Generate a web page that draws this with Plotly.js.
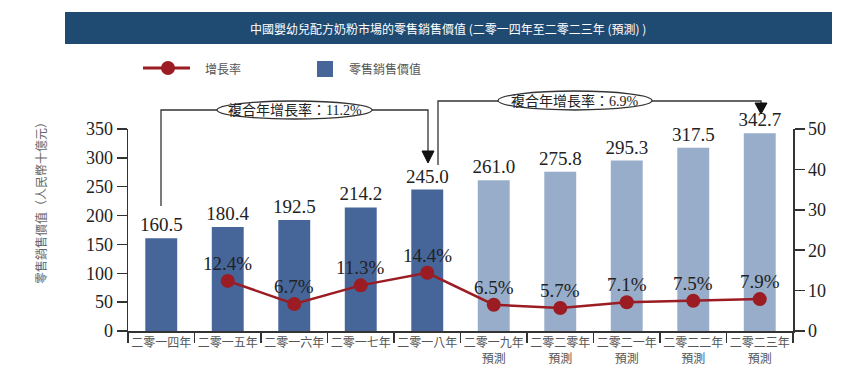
<!DOCTYPE html>
<html>
<head>
<meta charset="utf-8">
<script src="https://cdn.plot.ly/plotly-3.0.1.min.js"></script>
<style>html,body{margin:0;padding:0;background:#fff;}#chart{width:864px;height:383px;}</style>
</head>
<body>
<div id="chart"></div>
<script>
// ---- data ----
const years = ["二零一四年","二零一五年","二零一六年","二零一七年","二零一八年","二零一九年<br>預測","二零二零年<br>預測","二零二一年<br>預測","二零二二年<br>預測","二零二三年<br>預測"];
const retailValue = [160.5, 180.4, 192.5, 214.2, 245.0, 261.0, 275.8, 295.3, 317.5, 342.7];
const retailLabels = ["160.5","180.4","192.5","214.2","245.0","261.0","275.8","295.3","317.5","342.7"];
const isForecast = [false,false,false,false,false,true,true,true,true,true];
const growthYears = years.slice(1);
const growthRate = [12.4, 6.7, 11.3, 14.4, 6.5, 5.7, 7.1, 7.5, 7.9];
const growthLabels = growthRate.map(v => v.toFixed(1) + "%");
const title = "中國嬰幼兒配方奶粉市場的零售銷售價值 (二零一四年至二零二三年 (預測) )";
const yTitle = "零售銷售價值（人民幣十億元）";
const legendLine = "增長率";
const legendBar = "零售銷售價值";
const cagr1 = "複合年增長率：11.2%";
const cagr2 = "複合年增長率：6.9%";

// ---- style ----
const DARK = "#466599", LIGHT = "#98adc9", RED = "#9b1c22", AX = "#333";
const SERIF = "Liberation Serif, Times New Roman, serif";
const CJK = "Noto Sans CJK TC, Noto Sans, sans-serif";
const L = 128, R = 793, T = 129, B = 331;
const px = x => (x - L) / (R - L);
const py = y => (B - y) / (B - T);

const bars = {
  type: "bar", x: years, y: retailValue, text: retailLabels,
  textposition: "outside", cliponaxis: false, constraintext: "none",
  textfont: {family: SERIF, size: 19, color: "#222"},
  marker: {color: isForecast.map(f => f ? LIGHT : DARK)},
  width: 0.48, hoverinfo: "skip", showlegend: false
};
const line = {
  type: "scatter", mode: "lines+markers", x: growthYears, y: growthRate,
  yaxis: "y2", cliponaxis: false,
  line: {color: RED, width: 2.5}, marker: {color: RED, size: 14},
  hoverinfo: "skip", showlegend: false
};

const shapes = [
  {type: "rect", xref: "paper", yref: "paper", x0: px(65), x1: px(832), y0: py(44), y1: py(12), fillcolor: "#1f4a72", line: {width: 0}},
  // legend
  {type: "line", xref: "paper", yref: "paper", x0: px(143), x1: px(190), y0: py(68), y1: py(68), line: {color: RED, width: 3}},
  {type: "circle", xref: "paper", yref: "paper", x0: px(161), x1: px(175), y0: py(75), y1: py(61), fillcolor: RED, line: {width: 0}},
  {type: "rect", xref: "paper", yref: "paper", x0: px(317), x1: px(333), y0: py(77), y1: py(61), fillcolor: DARK, line: {width: 0}},
  // bracket 1
  {type: "path", xref: "paper", yref: "paper", path: `M ${px(161)} ${py(206)} L ${px(161)} ${py(110)} L ${px(217)} ${py(110)} M ${px(372)} ${py(110)} L ${px(428)} ${py(110)} L ${px(428)} ${py(151)}`, line: {color: AX, width: 1.3}},
  {type: "path", xref: "paper", yref: "paper", path: `M ${px(422)} ${py(151)} L ${px(434)} ${py(151)} L ${px(428)} ${py(163)} Z`, fillcolor: "#111", line: {color: "#111", width: 1}},
  {type: "circle", xref: "paper", yref: "paper", x0: px(217), x1: px(372), y0: py(119), y1: py(101), fillcolor: "#fff", line: {color: AX, width: 1.3}},
  // bracket 2
  {type: "path", xref: "paper", yref: "paper", path: `M ${px(438)} ${py(165)} L ${px(438)} ${py(101)} L ${px(498)} ${py(101)} M ${px(652)} ${py(101)} L ${px(761)} ${py(101)} L ${px(761)} ${py(103)}`, line: {color: AX, width: 1.3}},
  {type: "path", xref: "paper", yref: "paper", path: `M ${px(755)} ${py(103)} L ${px(767)} ${py(103)} L ${px(761)} ${py(114)} Z`, fillcolor: "#111", line: {color: "#111", width: 1}},
  {type: "circle", xref: "paper", yref: "paper", x0: px(498), x1: px(652), y0: py(110), y1: py(91), fillcolor: "#fff", line: {color: AX, width: 1.3}}
];

const annotations = [
  {xref: "paper", yref: "paper", x: px(448), y: py(28), text: title, showarrow: false, font: {family: CJK, size: 12, color: "#fff"}, xanchor: "center", yanchor: "middle"},
  {xref: "paper", yref: "paper", x: px(203), y: py(68), text: legendLine, showarrow: false, font: {family: CJK, size: 12, color: "#555"}, xanchor: "left", yanchor: "middle"},
  {xref: "paper", yref: "paper", x: px(347), y: py(68), text: legendBar, showarrow: false, font: {family: CJK, size: 12, color: "#555"}, xanchor: "left", yanchor: "middle"},
  {xref: "paper", yref: "paper", x: px(40), y: py(200), text: yTitle, textangle: -90, showarrow: false, font: {family: CJK, size: 12, color: "#666"}, xanchor: "center", yanchor: "middle"},
  {xref: "paper", yref: "paper", x: px(294.5), y: py(110), text: cagr1, showarrow: false, font: {family: SERIF + ", " + CJK, size: 14, color: "#222"}, xanchor: "center", yanchor: "middle"},
  {xref: "paper", yref: "paper", x: px(575), y: py(100.5), text: cagr2, showarrow: false, font: {family: SERIF + ", " + CJK, size: 14, color: "#222"}, xanchor: "center", yanchor: "middle"}
];
growthYears.forEach((c, i) => annotations.push({
  xref: "x", yref: "y2", x: c, y: growthRate[i], text: growthLabels[i], showarrow: false,
  xanchor: "center", yanchor: "bottom", yshift: 5, font: {family: SERIF, size: 19, color: "#222"}
}));

const axisCommon = {showline: true, linecolor: AX, linewidth: 1.5, ticks: "outside", ticklen: 10, tickcolor: AX, tickwidth: 1.5, showgrid: false, zeroline: false, fixedrange: true, automargin: false};

const layout = {
  width: 864, height: 383,
  margin: {l: L, r: 864 - R, t: T, b: 383 - B, pad: 0},
  paper_bgcolor: "#fff", plot_bgcolor: "#fff",
  showlegend: false,
  xaxis: Object.assign({}, axisCommon, {type: "category", range: [-0.5, years.length - 0.5], autorange: false, tickson: "boundaries", tickangle: 0, tickfont: {family: CJK, size: 12, color: "#555"}}),
  yaxis: Object.assign({}, axisCommon, {range: [0, 350], dtick: 50, tickfont: {family: SERIF, size: 18, color: "#222"}}),
  yaxis2: Object.assign({}, axisCommon, {overlaying: "y", side: "right", range: [0, 50], dtick: 10, tickfont: {family: SERIF, size: 18, color: "#222"}}),
  shapes: shapes, annotations: annotations
};

Plotly.newPlot("chart", [bars, line], layout, {displayModeBar: false, staticPlot: true});
</script>
</body>
</html>
